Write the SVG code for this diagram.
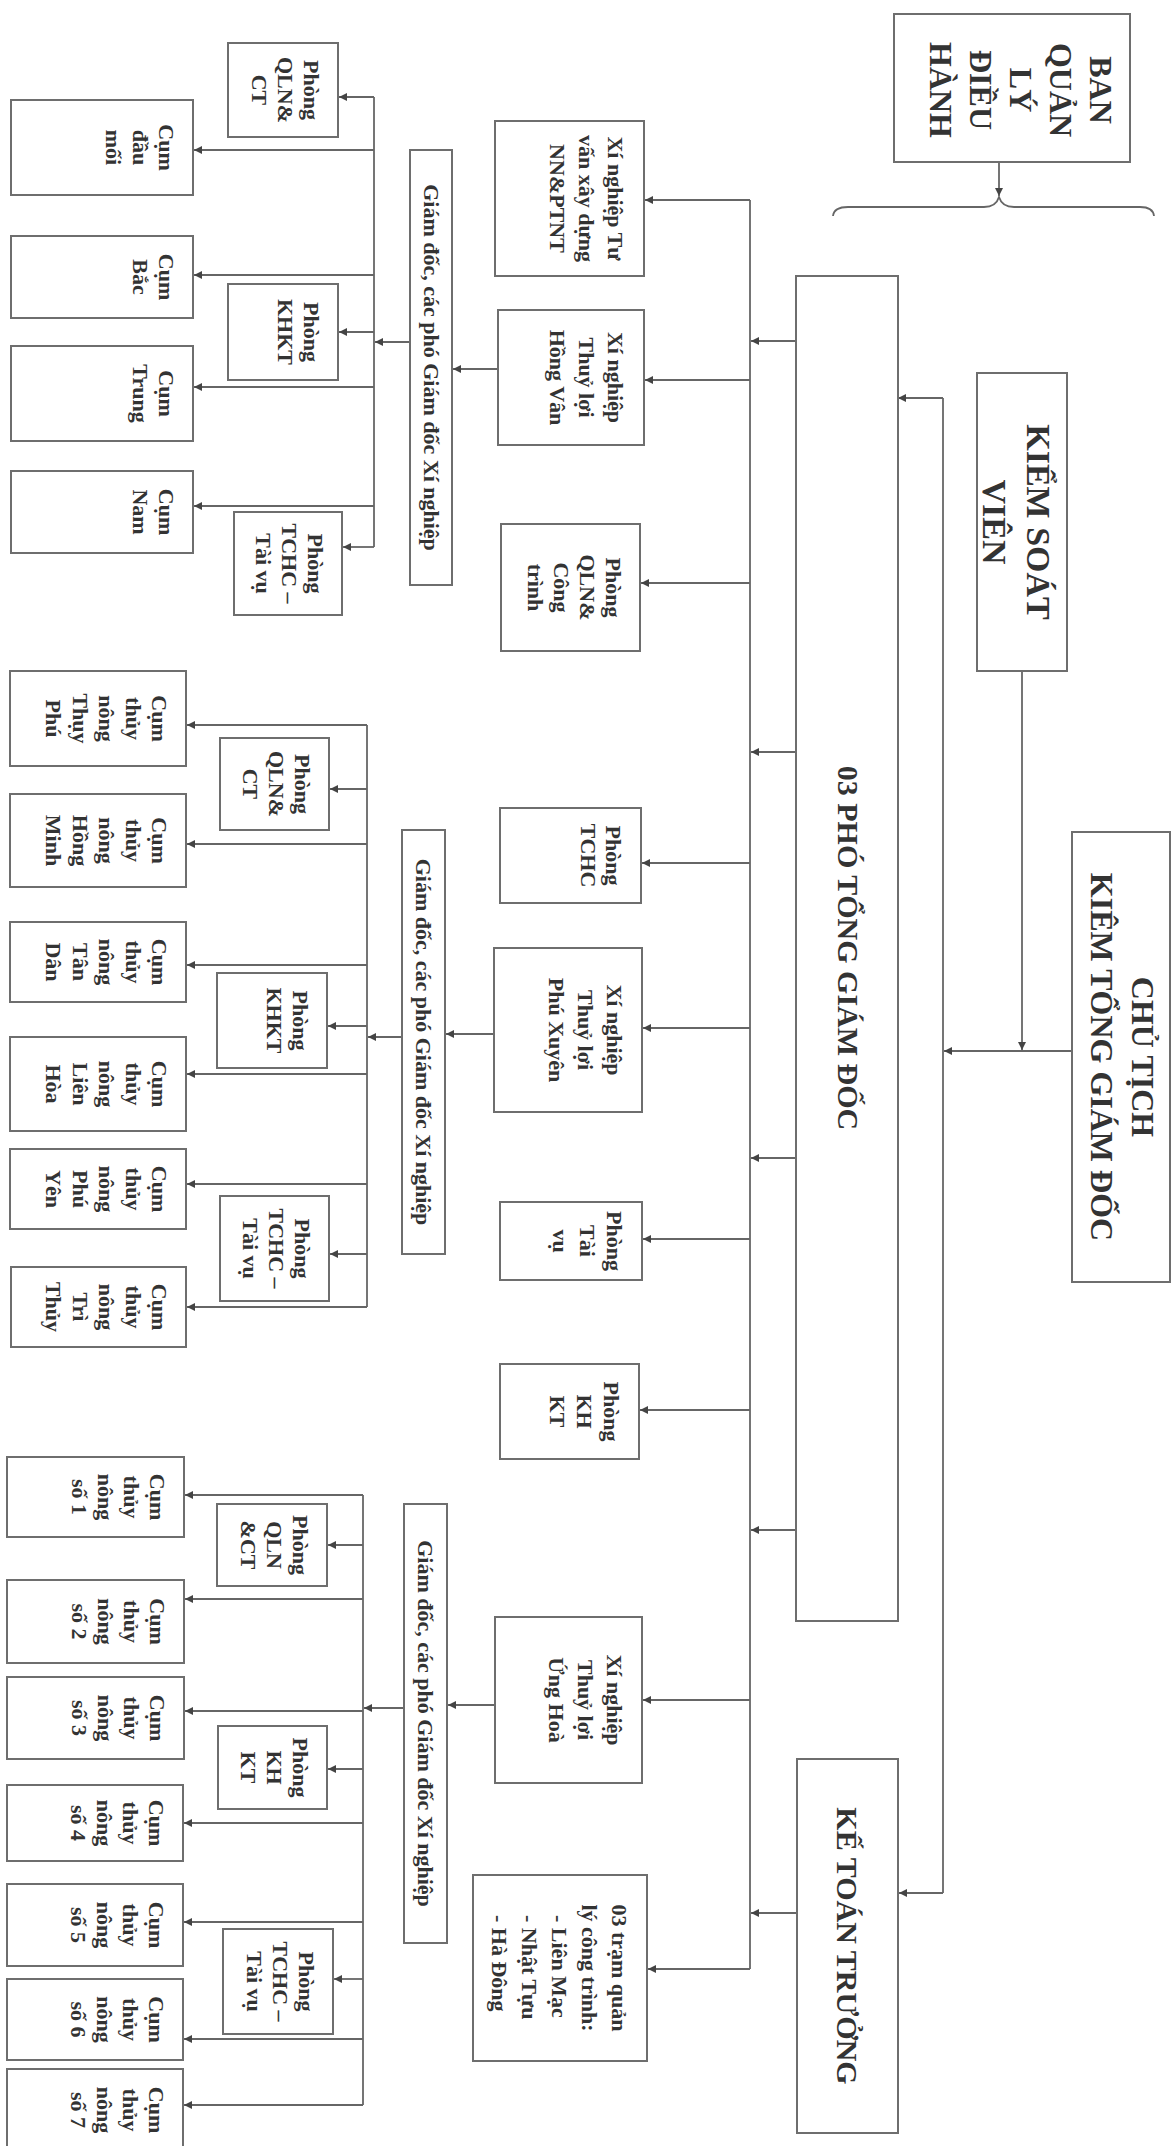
<svg xmlns="http://www.w3.org/2000/svg" width="1174" height="2146" viewBox="0 0 1174 2146">
<style>
.b{fill:#fff;stroke:#6e6e6e;stroke-width:2}
.t{font-family:"Liberation Serif",serif;font-weight:bold;font-size:22px;fill:#333;text-anchor:middle;dominant-baseline:central}
.L{font-size:32px}
.c{fill:none;stroke:#666;stroke-width:1.8}
.a{marker-end:url(#ah)}
</style>
<defs>
<marker id="ah" viewBox="0 0 10 10" refX="10" refY="5" markerWidth="9" markerHeight="8" markerUnits="userSpaceOnUse" orient="auto"><path d="M0,0 L10,5 L0,10 z" fill="#444"/></marker>
</defs>
<rect width="1174" height="2146" fill="#fff"/>

<g id="connectors">
<path class="c a" d="M999,162 V196"/>
<path class="c" d="M833,216 Q834,207 848,207 H984 Q996,207 999,197 Q1002,207 1014,207 H1140 Q1153,207 1154,216"/>
<path class="c" d="M750,200 V1969"/>
<path class="c a" d="M750,200 H645"/>
<path class="c a" d="M750,380 H645"/>
<path class="c a" d="M750,583 H641"/>
<path class="c a" d="M750,863 H642"/>
<path class="c a" d="M750,1028 H643"/>
<path class="c a" d="M750,1239 H643"/>
<path class="c a" d="M750,1410 H640"/>
<path class="c a" d="M750,1700 H643"/>
<path class="c a" d="M750,1969 H648"/>
<path class="c a" d="M796,341 H751"/>
<path class="c a" d="M796,752 H751"/>
<path class="c a" d="M796,1158 H751"/>
<path class="c a" d="M796,1530 H751"/>
<path class="c a" d="M797,1913 H751"/>
<path class="c" d="M943,398 V1893"/>
<path class="c a" d="M943,398 H898"/>
<path class="c a" d="M943,1893 H899"/>
<path class="c a" d="M1072,1051 H944"/>
<path class="c a" d="M1022,671 V1050"/>

<path class="c a" d="M498,369 H453"/>
<path class="c a" d="M410,342 H375"/>
<path class="c" d="M374,97 V547"/>
<path class="c a" d="M374,97 H339"/>
<path class="c a" d="M374,150 H194"/>
<path class="c a" d="M374,275 H194"/>
<path class="c a" d="M374,332 H339"/>
<path class="c a" d="M374,387 H194"/>
<path class="c a" d="M374,506 H194"/>
<path class="c a" d="M374,547 H343"/>

<path class="c a" d="M494,1034 H446"/>
<path class="c a" d="M402,1037 H368"/>
<path class="c" d="M367,725 V1307"/>
<path class="c a" d="M367,725 H187"/>
<path class="c a" d="M367,789 H330"/>
<path class="c a" d="M367,844 H187"/>
<path class="c a" d="M367,965 H187"/>
<path class="c a" d="M367,1026 H328"/>
<path class="c a" d="M367,1074 H187"/>
<path class="c a" d="M367,1184 H187"/>
<path class="c a" d="M367,1254 H330"/>
<path class="c a" d="M367,1307 H187"/>

<path class="c a" d="M495,1705 H448"/>
<path class="c a" d="M404,1708 H364"/>
<path class="c" d="M363,1495 V2105"/>
<path class="c a" d="M363,1495 H185"/>
<path class="c a" d="M363,1545 H328"/>
<path class="c a" d="M363,1599 H185"/>
<path class="c a" d="M363,1711 H185"/>
<path class="c a" d="M363,1769 H328"/>
<path class="c a" d="M363,1823 H184"/>
<path class="c a" d="M363,1922 H184"/>
<path class="c a" d="M363,1979 H334"/>
<path class="c a" d="M363,2039 H184"/>
<path class="c a" d="M363,2105 H184"/>
</g>

<g id="ban"><rect class="b" x="894" y="14" width="236" height="148"/>
<text class="t L" transform="translate(1101,90) rotate(90)"><tspan x="0" dy="0">BAN</tspan><tspan x="0" dy="40">QUẢN</tspan><tspan x="0" dy="40">LÝ</tspan><tspan x="0" dy="40">ĐIỀU</tspan><tspan x="0" dy="40">HÀNH</tspan></text></g>

<g id="kiemsoat"><rect class="b" x="977" y="373" width="90" height="298"/>
<text class="t" style="font-size:34px" transform="translate(1039,522) rotate(90)"><tspan x="0" dy="0">KIỂM SOÁT</tspan><tspan x="0" dy="44">VIÊN</tspan></text></g>

<g id="chutich"><rect class="b" x="1072" y="832" width="98" height="450"/>
<text class="t L" transform="translate(1143,1057) rotate(90)"><tspan x="0" dy="0">CHỦ TỊCH</tspan><tspan x="0" dy="41">KIÊM TỔNG GIÁM ĐỐC</tspan></text></g>

<g id="photgd"><rect class="b" x="796" y="276" width="102" height="1345"/>
<text class="t" style="font-size:30px" transform="translate(848,948) rotate(90)">03 PHÓ TỔNG GIÁM ĐỐC</text></g>

<g id="ketoan"><rect class="b" x="797" y="1759" width="101" height="374"/>
<text class="t" style="font-size:30px" transform="translate(847,1946) rotate(90)">KẾ TOÁN TRƯỞNG</text></g>

<g id="xn-tuvan"><rect class="b" x="495" y="121" width="149" height="155"/>
<text class="t" transform="translate(616,198.5) rotate(90)"><tspan x="0" dy="0">Xí nghiệp Tư</tspan><tspan x="0" dy="29">vấn xây dựng</tspan><tspan x="0" dy="29">NN&amp;PTNT</tspan></text></g>

<g id="xn-hongvan"><rect class="b" x="498" y="310" width="146" height="135"/>
<text class="t" transform="translate(616,377.5) rotate(90)"><tspan x="0" dy="0">Xí nghiệp</tspan><tspan x="0" dy="29">Thuỷ lợi</tspan><tspan x="0" dy="29">Hồng Vân</tspan></text></g>

<g id="p-qlnct"><rect class="b" x="501" y="524" width="139" height="127"/>
<text class="t" transform="translate(614,587.5) rotate(90)"><tspan x="0" dy="0">Phòng</tspan><tspan x="0" dy="26">QLN&amp;</tspan><tspan x="0" dy="26">Công</tspan><tspan x="0" dy="26">trình</tspan></text></g>

<g id="p-tchc"><rect class="b" x="500" y="808" width="141" height="95"/>
<text class="t" transform="translate(614,855.5) rotate(90)"><tspan x="0" dy="0">Phòng</tspan><tspan x="0" dy="25">TCHC</tspan></text></g>

<g id="xn-phuxuyen"><rect class="b" x="494" y="948" width="148" height="164"/>
<text class="t" transform="translate(615,1030) rotate(90)"><tspan x="0" dy="0">Xí nghiệp</tspan><tspan x="0" dy="29">Thuỷ lợi</tspan><tspan x="0" dy="29">Phú Xuyên</tspan></text></g>

<g id="p-taivu"><rect class="b" x="500" y="1202" width="142" height="78"/>
<text class="t" transform="translate(615,1241) rotate(90)"><tspan x="0" dy="0">Phòng</tspan><tspan x="0" dy="27">Tài</tspan><tspan x="0" dy="27">vụ</tspan></text></g>

<g id="p-khkt"><rect class="b" x="500" y="1364" width="139" height="95"/>
<text class="t" transform="translate(612,1411.5) rotate(90)"><tspan x="0" dy="0">Phòng</tspan><tspan x="0" dy="27">KH</tspan><tspan x="0" dy="27">KT</tspan></text></g>

<g id="xn-unghoa"><rect class="b" x="495" y="1617" width="147" height="166"/>
<text class="t" transform="translate(615,1700) rotate(90)"><tspan x="0" dy="0">Xí nghiệp</tspan><tspan x="0" dy="29">Thuỷ lợi</tspan><tspan x="0" dy="29">Ứng Hoà</tspan></text></g>

<g id="tram"><rect class="b" x="473" y="1875" width="174" height="186"/>
<text class="t" transform="translate(620,1968) rotate(90)"><tspan x="0" dy="0">03 trạm quản</tspan><tspan x="0" dy="30">lý công trình:</tspan><tspan x="-53" dy="30" text-anchor="start">- Liên Mạc</tspan><tspan x="-53" dy="30" text-anchor="start">- Nhật Tựu</tspan><tspan x="-53" dy="30" text-anchor="start">- Hà Đông</tspan></text></g>

<!-- Group 1 -->
<g id="gd1"><rect class="b" x="410" y="150" width="42" height="435"/>
<text class="t" transform="translate(431,367.5) rotate(90)">Giám đốc, các phó Giám đốc Xí nghiệp</text></g>
<g id="g1-qlnct"><rect class="b" x="228" y="43" width="110" height="94"/>
<text class="t" transform="translate(312,90) rotate(90)"><tspan x="0" dy="0">Phòng</tspan><tspan x="0" dy="26">QLN&amp;</tspan><tspan x="0" dy="26">CT</tspan></text></g>
<g id="g1-daumoi"><rect class="b" x="11" y="100" width="182" height="95"/>
<text class="t" transform="translate(167,147.5) rotate(90)"><tspan x="0" dy="0">Cụm</tspan><tspan x="0" dy="26.5">đầu</tspan><tspan x="0" dy="26.5">mối</tspan></text></g>
<g id="g1-bac"><rect class="b" x="11" y="236" width="182" height="82"/>
<text class="t" transform="translate(167,277) rotate(90)"><tspan x="0" dy="0">Cụm</tspan><tspan x="0" dy="26.5">Bắc</tspan></text></g>
<g id="g1-khkt"><rect class="b" x="228" y="284" width="110" height="96"/>
<text class="t" transform="translate(312,332) rotate(90)"><tspan x="0" dy="0">Phòng</tspan><tspan x="0" dy="26">KHKT</tspan></text></g>
<g id="g1-trung"><rect class="b" x="11" y="346" width="182" height="95"/>
<text class="t" transform="translate(167,393.5) rotate(90)"><tspan x="0" dy="0">Cụm</tspan><tspan x="0" dy="26.5">Trung</tspan></text></g>
<g id="g1-nam"><rect class="b" x="11" y="471" width="182" height="82"/>
<text class="t" transform="translate(167,512) rotate(90)"><tspan x="0" dy="0">Cụm</tspan><tspan x="0" dy="26.5">Nam</tspan></text></g>
<g id="g1-tchc"><rect class="b" x="234" y="512" width="108" height="103"/>
<text class="t" transform="translate(316,563.5) rotate(90)"><tspan x="0" dy="0">Phòng</tspan><tspan x="0" dy="26">TCHC –</tspan><tspan x="0" dy="26">Tài vụ</tspan></text></g>

<!-- Group 2 -->
<g id="gd2"><rect class="b" x="402" y="830" width="43" height="424"/>
<text class="t" transform="translate(423.5,1042) rotate(90)">Giám đốc, các phó Giám đốc Xí nghiệp</text></g>
<g id="g2-thuyphu"><rect class="b" x="10" y="671" width="176" height="95"/>
<text class="t" transform="translate(160,718.5) rotate(90)"><tspan x="0" dy="0">Cụm</tspan><tspan x="0" dy="26.5">thủy</tspan><tspan x="0" dy="26.5">nông</tspan><tspan x="0" dy="26.5">Thụy</tspan><tspan x="0" dy="26.5">Phú</tspan></text></g>
<g id="g2-qlnct"><rect class="b" x="220" y="738" width="109" height="92"/>
<text class="t" transform="translate(303,784) rotate(90)"><tspan x="0" dy="0">Phòng</tspan><tspan x="0" dy="26">QLN&amp;</tspan><tspan x="0" dy="26">CT</tspan></text></g>
<g id="g2-hongminh"><rect class="b" x="10" y="794" width="176" height="93"/>
<text class="t" transform="translate(160,840.5) rotate(90)"><tspan x="0" dy="0">Cụm</tspan><tspan x="0" dy="26.5">thủy</tspan><tspan x="0" dy="26.5">nông</tspan><tspan x="0" dy="26.5">Hồng</tspan><tspan x="0" dy="26.5">Minh</tspan></text></g>
<g id="g2-tandan"><rect class="b" x="10" y="922" width="176" height="80"/>
<text class="t" transform="translate(160,962) rotate(90)"><tspan x="0" dy="0">Cụm</tspan><tspan x="0" dy="26.5">thủy</tspan><tspan x="0" dy="26.5">nông</tspan><tspan x="0" dy="26.5">Tân</tspan><tspan x="0" dy="26.5">Dân</tspan></text></g>
<g id="g2-khkt"><rect class="b" x="217" y="973" width="110" height="95"/>
<text class="t" transform="translate(301,1020.5) rotate(90)"><tspan x="0" dy="0">Phòng</tspan><tspan x="0" dy="26">KHKT</tspan></text></g>
<g id="g2-lienhoa"><rect class="b" x="10" y="1037" width="176" height="94"/>
<text class="t" transform="translate(160,1084) rotate(90)"><tspan x="0" dy="0">Cụm</tspan><tspan x="0" dy="26.5">thủy</tspan><tspan x="0" dy="26.5">nông</tspan><tspan x="0" dy="26.5">Liên</tspan><tspan x="0" dy="26.5">Hòa</tspan></text></g>
<g id="g2-phuyen"><rect class="b" x="10" y="1149" width="176" height="80"/>
<text class="t" transform="translate(160,1189) rotate(90)"><tspan x="0" dy="0">Cụm</tspan><tspan x="0" dy="26.5">thủy</tspan><tspan x="0" dy="26.5">nông</tspan><tspan x="0" dy="26.5">Phú</tspan><tspan x="0" dy="26.5">Yên</tspan></text></g>
<g id="g2-tchc"><rect class="b" x="220" y="1196" width="109" height="105"/>
<text class="t" transform="translate(303,1248.5) rotate(90)"><tspan x="0" dy="0">Phòng</tspan><tspan x="0" dy="26">TCHC –</tspan><tspan x="0" dy="26">Tài vụ</tspan></text></g>
<g id="g2-trithuy"><rect class="b" x="11" y="1267" width="175" height="80"/>
<text class="t" transform="translate(160,1307) rotate(90)"><tspan x="0" dy="0">Cụm</tspan><tspan x="0" dy="26.5">thủy</tspan><tspan x="0" dy="26.5">nông</tspan><tspan x="0" dy="26.5">Trì</tspan><tspan x="0" dy="26.5">Thủy</tspan></text></g>

<!-- Group 3 -->
<g id="gd3"><rect class="b" x="404" y="1504" width="43" height="439"/>
<text class="t" transform="translate(425.5,1723.5) rotate(90)">Giám đốc, các phó Giám đốc Xí nghiệp</text></g>
<g id="g3-so1"><rect class="b" x="7" y="1457" width="177" height="80"/>
<text class="t" transform="translate(158,1497) rotate(90)"><tspan x="0" dy="0">Cụm</tspan><tspan x="0" dy="26">thủy</tspan><tspan x="0" dy="26">nông</tspan><tspan x="0" dy="26">số 1</tspan></text></g>
<g id="g3-qlnct"><rect class="b" x="217" y="1504" width="110" height="82"/>
<text class="t" transform="translate(301,1545) rotate(90)"><tspan x="0" dy="0">Phòng</tspan><tspan x="0" dy="26">QLN</tspan><tspan x="0" dy="26">&amp;CT</tspan></text></g>
<g id="g3-so2"><rect class="b" x="7" y="1580" width="177" height="83"/>
<text class="t" transform="translate(158,1621.5) rotate(90)"><tspan x="0" dy="0">Cụm</tspan><tspan x="0" dy="26">thủy</tspan><tspan x="0" dy="26">nông</tspan><tspan x="0" dy="26">số 2</tspan></text></g>
<g id="g3-so3"><rect class="b" x="7" y="1677" width="177" height="82"/>
<text class="t" transform="translate(158,1718) rotate(90)"><tspan x="0" dy="0">Cụm</tspan><tspan x="0" dy="26">thủy</tspan><tspan x="0" dy="26">nông</tspan><tspan x="0" dy="26">số 3</tspan></text></g>
<g id="g3-khkt"><rect class="b" x="218" y="1726" width="109" height="83"/>
<text class="t" transform="translate(301,1767.5) rotate(90)"><tspan x="0" dy="0">Phòng</tspan><tspan x="0" dy="26">KH</tspan><tspan x="0" dy="26">KT</tspan></text></g>
<g id="g3-so4"><rect class="b" x="7" y="1785" width="176" height="76"/>
<text class="t" transform="translate(157,1823) rotate(90)"><tspan x="0" dy="0">Cụm</tspan><tspan x="0" dy="26">thủy</tspan><tspan x="0" dy="26">nông</tspan><tspan x="0" dy="26">số 4</tspan></text></g>
<g id="g3-so5"><rect class="b" x="7" y="1884" width="176" height="82"/>
<text class="t" transform="translate(157,1925) rotate(90)"><tspan x="0" dy="0">Cụm</tspan><tspan x="0" dy="26">thủy</tspan><tspan x="0" dy="26">nông</tspan><tspan x="0" dy="26">số 5</tspan></text></g>
<g id="g3-tchc"><rect class="b" x="223" y="1929" width="110" height="105"/>
<text class="t" transform="translate(307,1981.5) rotate(90)"><tspan x="0" dy="0">Phòng</tspan><tspan x="0" dy="26">TCHC –</tspan><tspan x="0" dy="26">Tài vụ</tspan></text></g>
<g id="g3-so6"><rect class="b" x="7" y="1979" width="176" height="81"/>
<text class="t" transform="translate(157,2019.5) rotate(90)"><tspan x="0" dy="0">Cụm</tspan><tspan x="0" dy="26">thủy</tspan><tspan x="0" dy="26">nông</tspan><tspan x="0" dy="26">số 6</tspan></text></g>
<g id="g3-so7"><rect class="b" x="7" y="2069" width="176" height="92"/>
<text class="t" transform="translate(157,2110) rotate(90)"><tspan x="0" dy="0">Cụm</tspan><tspan x="0" dy="26">thủy</tspan><tspan x="0" dy="26">nông</tspan><tspan x="0" dy="26">số 7</tspan></text></g>
</svg>
